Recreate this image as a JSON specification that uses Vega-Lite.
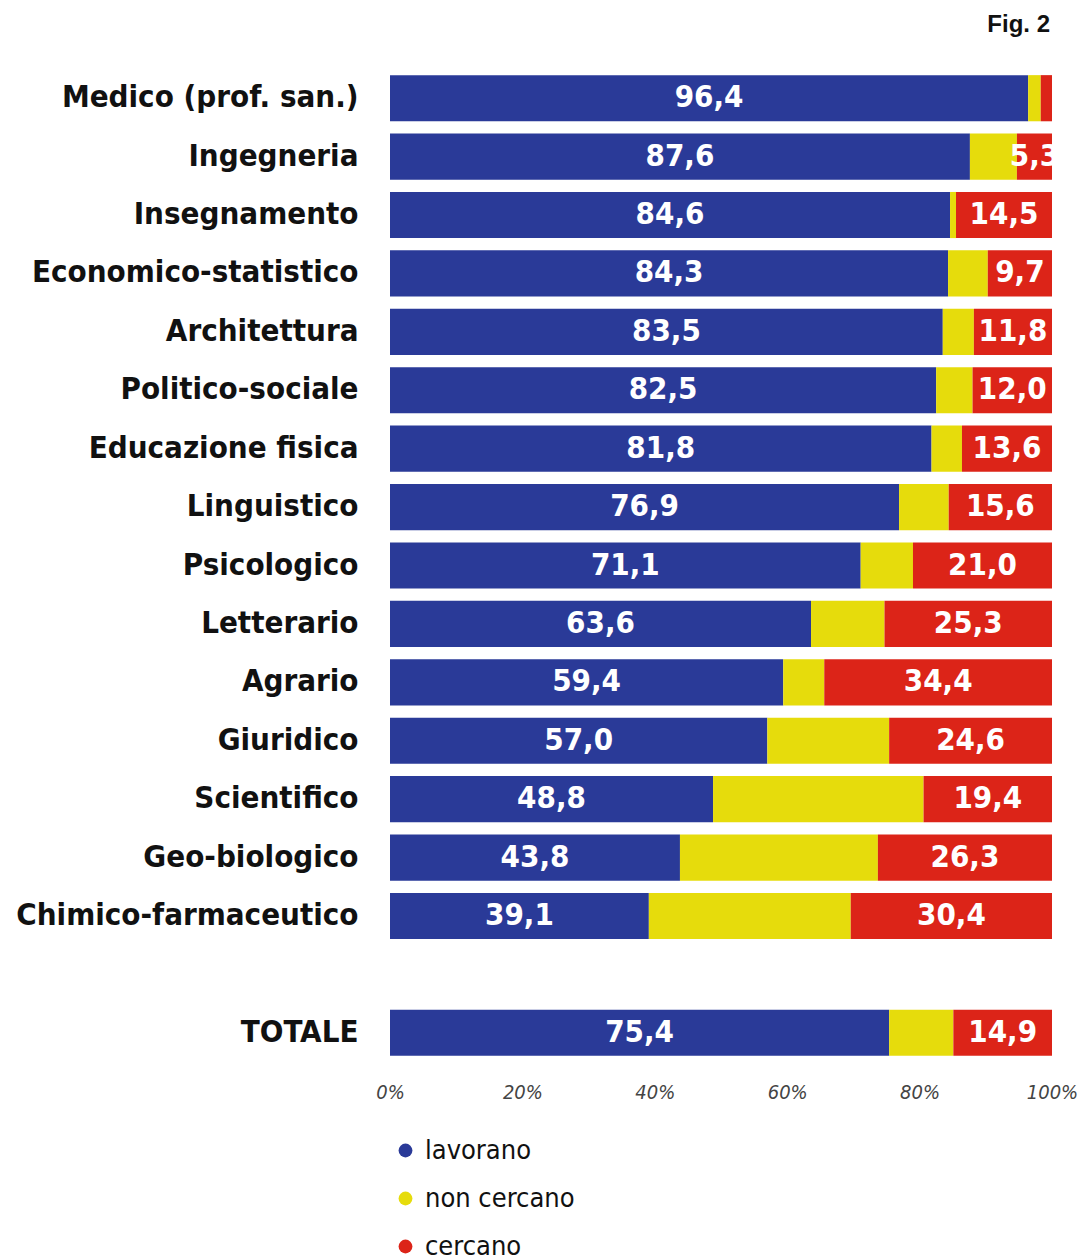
{
  "$schema": "https://vega.github.io/schema/vega-lite/v6.json",
  "autosize": {"type": "none"},
  "padding": {"left": 390, "top": 69, "right": 29, "bottom": 195},
  "width": 662,
  "height": 993,
  "background": "white",
  "title": {"text": "Fig. 2", "anchor": "end", "frame": "group", "font": "Liberation Sans", "fontWeight": "bold", "fontSize": 24, "color": "#111", "baseline": "alphabetic", "offset": 13, "dx": -2},
  "config": {
    "view": {"stroke": null},
    "locale": {"number": {"decimal": ",", "thousands": ".", "grouping": [3], "currency": ["", " €"]}}
  },
  "data": {"values": [
    {"cat": "Medico (prof. san.)", "stato": "lavorano", "k": 1, "pct": 96.4},
    {"cat": "Medico (prof. san.)", "stato": "non cercano", "k": 2, "pct": 1.9},
    {"cat": "Medico (prof. san.)", "stato": "cercano", "k": 3, "pct": 1.7},
    {"cat": "Ingegneria", "stato": "lavorano", "k": 1, "pct": 87.6},
    {"cat": "Ingegneria", "stato": "non cercano", "k": 2, "pct": 7.1},
    {"cat": "Ingegneria", "stato": "cercano", "k": 3, "pct": 5.3},
    {"cat": "Insegnamento", "stato": "lavorano", "k": 1, "pct": 84.6},
    {"cat": "Insegnamento", "stato": "non cercano", "k": 2, "pct": 0.9},
    {"cat": "Insegnamento", "stato": "cercano", "k": 3, "pct": 14.5},
    {"cat": "Economico-statistico", "stato": "lavorano", "k": 1, "pct": 84.3},
    {"cat": "Economico-statistico", "stato": "non cercano", "k": 2, "pct": 6.0},
    {"cat": "Economico-statistico", "stato": "cercano", "k": 3, "pct": 9.7},
    {"cat": "Architettura", "stato": "lavorano", "k": 1, "pct": 83.5},
    {"cat": "Architettura", "stato": "non cercano", "k": 2, "pct": 4.7},
    {"cat": "Architettura", "stato": "cercano", "k": 3, "pct": 11.8},
    {"cat": "Politico-sociale", "stato": "lavorano", "k": 1, "pct": 82.5},
    {"cat": "Politico-sociale", "stato": "non cercano", "k": 2, "pct": 5.5},
    {"cat": "Politico-sociale", "stato": "cercano", "k": 3, "pct": 12.0},
    {"cat": "Educazione fisica", "stato": "lavorano", "k": 1, "pct": 81.8},
    {"cat": "Educazione fisica", "stato": "non cercano", "k": 2, "pct": 4.6},
    {"cat": "Educazione fisica", "stato": "cercano", "k": 3, "pct": 13.6},
    {"cat": "Linguistico", "stato": "lavorano", "k": 1, "pct": 76.9},
    {"cat": "Linguistico", "stato": "non cercano", "k": 2, "pct": 7.5},
    {"cat": "Linguistico", "stato": "cercano", "k": 3, "pct": 15.6},
    {"cat": "Psicologico", "stato": "lavorano", "k": 1, "pct": 71.1},
    {"cat": "Psicologico", "stato": "non cercano", "k": 2, "pct": 7.9},
    {"cat": "Psicologico", "stato": "cercano", "k": 3, "pct": 21.0},
    {"cat": "Letterario", "stato": "lavorano", "k": 1, "pct": 63.6},
    {"cat": "Letterario", "stato": "non cercano", "k": 2, "pct": 11.1},
    {"cat": "Letterario", "stato": "cercano", "k": 3, "pct": 25.3},
    {"cat": "Agrario", "stato": "lavorano", "k": 1, "pct": 59.4},
    {"cat": "Agrario", "stato": "non cercano", "k": 2, "pct": 6.2},
    {"cat": "Agrario", "stato": "cercano", "k": 3, "pct": 34.4},
    {"cat": "Giuridico", "stato": "lavorano", "k": 1, "pct": 57.0},
    {"cat": "Giuridico", "stato": "non cercano", "k": 2, "pct": 18.4},
    {"cat": "Giuridico", "stato": "cercano", "k": 3, "pct": 24.6},
    {"cat": "Scientifico", "stato": "lavorano", "k": 1, "pct": 48.8},
    {"cat": "Scientifico", "stato": "non cercano", "k": 2, "pct": 31.8},
    {"cat": "Scientifico", "stato": "cercano", "k": 3, "pct": 19.4},
    {"cat": "Geo-biologico", "stato": "lavorano", "k": 1, "pct": 43.8},
    {"cat": "Geo-biologico", "stato": "non cercano", "k": 2, "pct": 29.9},
    {"cat": "Geo-biologico", "stato": "cercano", "k": 3, "pct": 26.3},
    {"cat": "Chimico-farmaceutico", "stato": "lavorano", "k": 1, "pct": 39.1},
    {"cat": "Chimico-farmaceutico", "stato": "non cercano", "k": 2, "pct": 30.5},
    {"cat": "Chimico-farmaceutico", "stato": "cercano", "k": 3, "pct": 30.4},
    {"cat": "TOTALE", "stato": "lavorano", "k": 1, "pct": 75.4},
    {"cat": "TOTALE", "stato": "non cercano", "k": 2, "pct": 9.7},
    {"cat": "TOTALE", "stato": "cercano", "k": 3, "pct": 14.9}
  ]},
  "transform": [
    {"stack": "pct", "groupby": ["cat"], "sort": [{"field": "k", "order": "ascending"}], "as": ["x0", "x1"]}
  ],
  "encoding": {
    "y": {
      "field": "cat", "type": "nominal",
      "scale": {
        "domain": ["Medico (prof. san.)", "Ingegneria", "Insegnamento", "Economico-statistico", "Architettura", "Politico-sociale", "Educazione fisica", "Linguistico", "Psicologico", "Letterario", "Agrario", "Giuridico", "Scientifico", "Geo-biologico", "Chimico-farmaceutico", "", "TOTALE"],
        "paddingInner": 0.21, "paddingOuter": 0.105
      },
      "axis": {
        "title": null, "domain": false, "ticks": false, "labelPadding": 32,
        "labelFont": "DejaVu Sans Condensed", "labelFontWeight": "bold", "labelFontSize": 31,
        "labelColor": "#111", "labelLimit": 400
      }
    }
  },
  "layer": [
    {
      "mark": {"type": "bar"},
      "encoding": {
        "x": {
          "field": "x0", "type": "quantitative",
          "scale": {"domain": [0, 100], "nice": false},
          "axis": {
            "title": null, "domain": false, "ticks": false, "grid": false,
            "values": [0, 20, 40, 60, 80, 100],
            "labelExpr": "datum.value + '%'",
            "labelFont": "DejaVu Sans Condensed", "labelFontStyle": "italic", "labelFontSize": 20,
            "labelColor": "#444", "labelPadding": 20, "labelFlush": false
          }
        },
        "x2": {"field": "x1"},
        "color": {
          "field": "stato", "type": "nominal",
          "scale": {"domain": ["lavorano", "non cercano", "cercano"], "range": ["#2a3a98", "#e6dc0c", "#dc2418"]},
          "legend": {
            "title": null, "orient": "none", "legendX": 2, "legendY": 1068,
            "symbolType": "circle", "symbolSize": 190,
            "labelFont": "DejaVu Sans Condensed", "labelFontSize": 27, "labelColor": "#111",
            "rowPadding": 20, "labelOffset": 6
          }
        }
      }
    },
    {
      "transform": [
        {"filter": "datum.stato != 'non cercano' && datum.pct >= 3"},
        {"fold": ["x0", "x1"], "as": ["edge", "pos"]},
        {"aggregate": [{"op": "mean", "field": "pos", "as": "mid"}], "groupby": ["cat", "stato", "pct"]}
      ],
      "mark": {"type": "text", "color": "white", "font": "DejaVu Sans Condensed", "fontWeight": "bold", "fontSize": 31, "baseline": "middle", "clip": true},
      "encoding": {
        "x": {"field": "mid", "type": "quantitative"},
        "text": {"field": "pct", "type": "quantitative", "format": ".1f"}
      }
    }
  ]
}
